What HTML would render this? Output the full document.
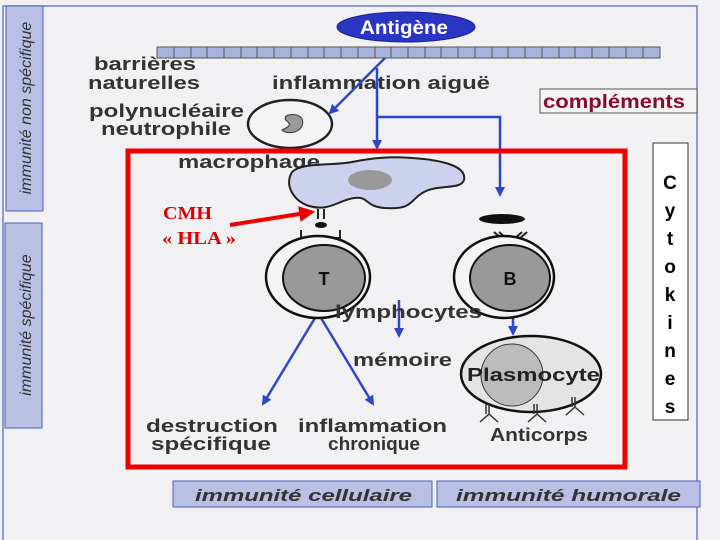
<!DOCTYPE html>
<html><head><meta charset="utf-8"><style>
html,body{margin:0;padding:0;background:#f1f1f3}
svg{display:block}
text{font-family:"Liberation Sans",sans-serif;font-weight:bold;fill:#333}
</style></head><body>
<svg width="720" height="540" viewBox="0 0 720 540" xmlns="http://www.w3.org/2000/svg">
<defs>
<marker id="ab" viewBox="0 0 10 10" refX="8" refY="5" markerWidth="4" markerHeight="4" orient="auto"><path d="M0,0L10,5L0,10z" fill="#2d47c8"/></marker>
<marker id="ar" viewBox="0 0 10 10" refX="8" refY="5" markerWidth="4" markerHeight="4" orient="auto"><path d="M0,0L10,5L0,10z" fill="#e00"/></marker>
</defs>
<rect width="720" height="540" fill="#f1f1f3"/>
<path d="M3,540V6H697V540" fill="none" stroke="#6f7ccc" stroke-width="1.5"/>
<rect x="6" y="6" width="37" height="205" fill="#b9c0e4" stroke="#5060c0"/>
<rect x="5" y="223" width="37" height="205" fill="#b9c0e4" stroke="#5060c0"/>
<text transform="translate(31,108) rotate(-90)" text-anchor="middle" font-size="16" font-style="italic" style="font-weight:normal">immunité non spécifique</text>
<text transform="translate(31,325) rotate(-90)" text-anchor="middle" font-size="16" font-style="italic" style="font-weight:normal">immunité spécifique</text>
<rect x="157" y="47" width="503" height="11" fill="#a9b2dc" stroke="#555"/>
<g stroke="#555" stroke-width="1">
<path d="M174,47v11M191,47v11M207,47v11M224,47v11M241,47v11M257,47v11M274,47v11M291,47v11M308,47v11M324,47v11M341,47v11M358,47v11M375,47v11M391,47v11M408,47v11M425,47v11M441,47v11M458,47v11M475,47v11M492,47v11M508,47v11M525,47v11M542,47v11M559,47v11M575,47v11M592,47v11M609,47v11M626,47v11M643,47v11"/>
</g>
<ellipse cx="406" cy="27" rx="69" ry="15" fill="#2b35c4" stroke="#1a2090"/>
<text x="360" y="34" font-size="19" textLength="88" lengthAdjust="spacingAndGlyphs" style="fill:#fff">Antigène</text>
<g font-size="18">
<text x="94" y="70" textLength="102" lengthAdjust="spacingAndGlyphs">barrières</text>
<text x="88" y="89" textLength="112" lengthAdjust="spacingAndGlyphs">naturelles</text>
<text x="272" y="89" textLength="218" lengthAdjust="spacingAndGlyphs">inflammation aiguë</text>
<text x="89" y="117" textLength="155" lengthAdjust="spacingAndGlyphs">polynucléaire</text>
<text x="101" y="135" textLength="130" lengthAdjust="spacingAndGlyphs">neutrophile</text>
<text x="178" y="168" textLength="142" lengthAdjust="spacingAndGlyphs">macrophage</text>
</g>
<rect x="540" y="89" width="157" height="24" fill="#f4f4f4" stroke="#555"/>
<text x="543" y="108" font-size="19" textLength="142" lengthAdjust="spacingAndGlyphs" style="fill:#8a0a2a">compléments</text>
<rect x="653" y="143" width="35" height="277" fill="#fff" stroke="#333"/>
<g font-size="19" text-anchor="middle">
<text x="670" y="189" style="fill:#000">C</text><text x="670" y="217" style="fill:#000">y</text><text x="670" y="245" style="fill:#000">t</text><text x="670" y="273" style="fill:#000">o</text><text x="670" y="301" style="fill:#000">k</text><text x="670" y="329" style="fill:#000">i</text><text x="670" y="357" style="fill:#000">n</text><text x="670" y="385" style="fill:#000">e</text><text x="670" y="413" style="fill:#000">s</text>
</g>
<ellipse cx="290" cy="124" rx="42" ry="24" fill="#f4f4f4" stroke="#222" stroke-width="2.5"/>
<path d="M286,116c8,-4 20,0 16,10c-4,8 -16,8 -20,4c4,-2 10,-4 6,-8c-2,-2 -4,-2 -2,-6z" fill="#999" stroke="#333"/>
<g stroke="#2d47c8" stroke-width="2.5" fill="none">
<path d="M385,58L330,113" marker-end="url(#ab)"/>
<path d="M377,68V148" marker-end="url(#ab)"/>
<path d="M377,117H500V195" marker-end="url(#ab)"/>
<path d="M399,300V336" marker-end="url(#ab)"/>
<path d="M513,308V334" marker-end="url(#ab)"/>
<path d="M318,313L263,404" marker-end="url(#ab)"/>
<path d="M318,313L373,404" marker-end="url(#ab)"/>
</g>
<path d="M292,172c10,-10 40,-6 60,-10c20,-4 40,-6 60,-4c30,2 55,8 52,22c-3,10 -25,4 -40,12c-15,8 -10,18 -40,16c-20,-2 -15,-12 -30,-10c-15,2 -25,14 -45,8c-15,-5 -25,-20 -17,-34z" fill="#ccd2ee" stroke="#222" stroke-width="2"/>
<ellipse cx="370" cy="180" rx="22" ry="10" fill="#999"/>
<g stroke="#222" stroke-width="2" fill="none">
<path d="M318,209v10M324,209v10"/>
<path d="M301,230v8h17v14M340,230v8h-16v14"/>
<path d="M499,232l9,8v12M522,232l-9,8v12M494,232l9,8M527,232l-9,8"/>
</g>
<ellipse cx="321" cy="225" rx="6" ry="3" fill="#111"/>
<ellipse cx="502" cy="219" rx="23" ry="5" fill="#111"/>
<text x="163" y="219" font-size="18" textLength="49" lengthAdjust="spacingAndGlyphs" style="fill:#d00;font-family:'Liberation Serif',serif">CMH</text>
<text x="162" y="244" font-size="18" textLength="74" lengthAdjust="spacingAndGlyphs" style="fill:#d00;font-family:'Liberation Serif',serif">« HLA »</text>
<path d="M230,225L312,212" stroke="#e00" stroke-width="4" marker-end="url(#ar)"/>
<ellipse cx="318" cy="277" rx="52" ry="41" fill="#f4f4f4" stroke="#111" stroke-width="2.5"/>
<ellipse cx="324" cy="278" rx="41" ry="33" fill="#999" stroke="#111" stroke-width="2"/>
<text x="324" y="285" text-anchor="middle" font-size="18" style="fill:#111">T</text>
<ellipse cx="504" cy="277" rx="50" ry="41" fill="#f4f4f4" stroke="#111" stroke-width="2.5"/>
<ellipse cx="510" cy="278" rx="40" ry="33" fill="#999" stroke="#111" stroke-width="2"/>
<text x="510" y="285" text-anchor="middle" font-size="18" style="fill:#111">B</text>
<ellipse cx="531" cy="374" rx="70" ry="38" fill="#e4e4e4" stroke="#111" stroke-width="2.5"/>
<circle cx="512" cy="375" r="31" fill="#bbb" stroke="#333"/>
<g stroke="#333" stroke-width="1.5" fill="none">
<path d="M489,404v10l-9,8M489,414l9,8M486,404v10M537,404v10l-9,8M537,414l9,8M534,404v10M575,397v10l-9,8M575,407l9,8M572,397v10"/>
</g>
<g font-size="18">
<text x="335" y="318" textLength="147" lengthAdjust="spacingAndGlyphs">lymphocytes</text>
<text x="353" y="366" textLength="99" lengthAdjust="spacingAndGlyphs">mémoire</text>
<text x="467" y="381" textLength="133" lengthAdjust="spacingAndGlyphs" style="fill:#222">Plasmocyte</text>
<text x="490" y="441" textLength="98" lengthAdjust="spacingAndGlyphs">Anticorps</text>
<text x="146" y="432" textLength="132" lengthAdjust="spacingAndGlyphs">destruction</text>
<text x="151" y="450" textLength="120" lengthAdjust="spacingAndGlyphs">spécifique</text>
<text x="298" y="432" textLength="149" lengthAdjust="spacingAndGlyphs">inflammation</text>
<text x="328" y="450" textLength="92" lengthAdjust="spacingAndGlyphs">chronique</text>
</g>
<rect x="128" y="151" width="497" height="316" fill="none" stroke="#ee0000" stroke-width="5"/>
<rect x="173" y="481" width="259" height="26" fill="#b9c0e4" stroke="#5060c0"/>
<rect x="437" y="481" width="263" height="26" fill="#b9c0e4" stroke="#5060c0"/>
<text x="195" y="501" font-size="17" font-style="italic" textLength="217" lengthAdjust="spacingAndGlyphs">immunité cellulaire</text>
<text x="456" y="501" font-size="17" font-style="italic" textLength="225" lengthAdjust="spacingAndGlyphs">immunité humorale</text>
</svg>
</body></html>
